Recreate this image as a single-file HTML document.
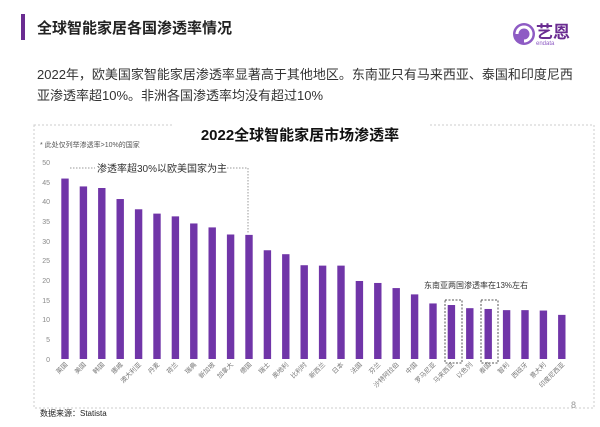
<!DOCTYPE html>
<html><head><meta charset="utf-8"><style>
body{margin:0;width:600px;height:422px;background:#fff;overflow:hidden;font-family:"Liberation Sans","Noto Sans CJK SC",sans-serif;}
</style></head><body>
<svg width="600" height="422" xmlns="http://www.w3.org/2000/svg" style="font-family:'Liberation Sans','Noto Sans CJK SC',sans-serif">
<rect x="21" y="14" width="4" height="26" fill="#6a2c91"/>
<text x="37" y="33" font-size="15" font-weight="bold" fill="#222">全球智能家居各国渗透率情况</text>
<circle cx="524" cy="34" r="11" fill="#8e5bc4"/>
<path d="M517 34 a7 7 0 1 1 7 7" stroke="#fff" stroke-width="3" fill="none"/>
<text x="536" y="38" font-size="17" font-weight="bold" fill="#6a2c91">艺恩</text>
<text x="536" y="45" font-size="6" fill="#8e5bc4">endata</text>
<text x="37" y="79" font-size="13" fill="#333">2022年，欧美国家智能家居渗透率显著高于其他地区。东南亚只有马来西亚、泰国和印度尼西</text>
<text x="37" y="100" font-size="13" fill="#333">亚渗透率超10%。非洲各国渗透率均没有超过10%</text>
<rect x="34" y="125" width="560" height="283" fill="none" stroke="#ccc" stroke-dasharray="2,2"/>
<rect x="172" y="122" width="256" height="22" fill="#fff"/>
<text x="300" y="140" font-size="15" font-weight="bold" fill="#111" text-anchor="middle">2022全球智能家居市场渗透率</text>
<text x="40" y="147" font-size="7" fill="#555">* 此处仅列举渗透率&gt;10%的国家</text>
<g font-size="7" fill="#888" text-anchor="end">
<text x="50" y="165">50</text><text x="50" y="185">45</text><text x="50" y="204">40</text><text x="50" y="224">35</text><text x="50" y="244">30</text><text x="50" y="263">25</text><text x="50" y="283">20</text><text x="50" y="303">15</text><text x="50" y="322">10</text><text x="50" y="342">5</text><text x="50" y="362">0</text>
</g>
<path d="M70 168 H95 M212 168 H248 V234" stroke="#999" stroke-dasharray="1.5,1.5" fill="none"/>
<text x="97" y="172" font-size="10" fill="#333">渗透率超30%以欧美国家为主</text>
<text x="424" y="288" font-size="8" fill="#333">东南亚两国渗透率在13%左右</text>
<rect x="445" y="300" width="17" height="63" fill="none" stroke="#555" stroke-dasharray="2,1.5"/>
<rect x="481" y="300" width="17" height="63" fill="none" stroke="#555" stroke-dasharray="2,1.5"/>
<g id="bars" fill="#7035a8"></g>
<g id="labs" font-size="6.5" fill="#777"></g>
<text x="40" y="416" font-size="8" fill="#222">数据来源：Statista</text>
<text x="571" y="408" font-size="9" fill="#999">8</text>
</svg>
<script>
var v=[45.8,43.8,43.4,40.6,38,36.9,36.2,34.4,33.4,31.6,31.5,27.6,26.6,23.8,23.7,23.7,19.8,19.3,18,16.4,14.1,13.7,12.9,12.7,12.4,12.4,12.3,11.2];
var n=["英国","美国","韩国","挪威","澳大利亚","丹麦","荷兰","瑞典","新加坡","加拿大","德国","瑞士","奥地利","比利时","新西兰","日本","法国","芬兰","沙特阿拉伯","中国","罗马尼亚","马来西亚","以色列","泰国","智利","西班牙","意大利","印度尼西亚"];
var b=document.getElementById('bars'),l=document.getElementById('labs'),ns="http://www.w3.org/2000/svg";
for(var i=0;i<v.length;i++){var cx=65+i*18.4,h=v[i]*3.94;
var r=document.createElementNS(ns,'rect');r.setAttribute('x',cx-3.7);r.setAttribute('y',359-h);r.setAttribute('width',7.4);r.setAttribute('height',h);b.appendChild(r);
var t=document.createElementNS(ns,'text');t.setAttribute('text-anchor','end');t.setAttribute('transform','translate('+(cx+3)+',365) rotate(-45)');t.textContent=n[i];l.appendChild(t);}
</script>
</body></html>
